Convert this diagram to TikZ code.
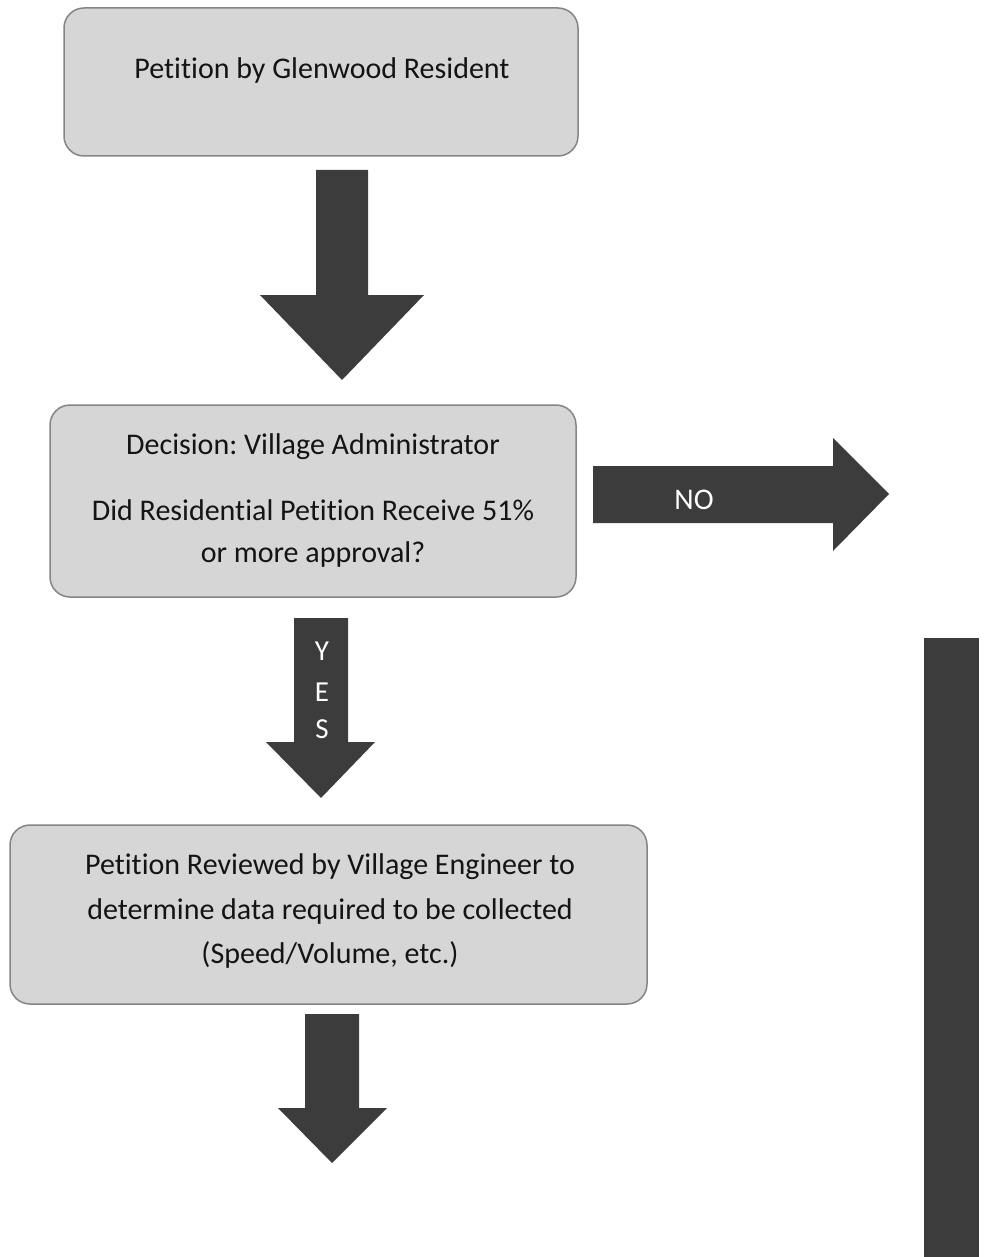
\documentclass[tikz,border=0pt]{standalone}
\usepackage{fontspec}
\setmainfont[Ligatures=NoCommon]{Carlito}
\frenchspacing
\definecolor{boxfill}{HTML}{D6D6D6}
\definecolor{boxline}{HTML}{858585}
\definecolor{arrowc}{HTML}{3C3C3C}
\tikzset{
  box/.style={draw=boxline, line width=1.5pt, fill=boxfill, rounded corners=20pt},
  txt/.style={font=\fontsize{30}{34}\selectfont, text=black!92},
  blk/.style={fill=arrowc, draw=none},
  lbl/.style={font=\fontsize{29}{32}\selectfont, text=white}
}
\begin{document}
\begin{tikzpicture}[x=1pt,y=-1pt]
\useasboundingbox (0,0) rectangle (986,1257);
% box 1
\draw[box] (64,8) rectangle (578,156);
\node[txt] (t1) at (322,71) {Petition by Glenwood Resident};
% arrow 1
\fill[blk] (316,170) -- (368,170) -- (368,295) -- (424,295) -- (342,380) -- (260,295) -- (316,295) -- cycle;
% box 2
\draw[box] (50,405) rectangle (576,597);
\node[txt] (t2a) at (313,447) {Decision: Village Administrator};
\node[txt] (t2b) at (313,510) {Did Residential Petition Receive 51\%};
\node[txt] (t2c) at (313,554) {or more approval?};
% NO arrow
\fill[blk] (593,466) -- (833,466) -- (833,438) -- (889,494) -- (833,551) -- (833,523) -- (593,523) -- cycle;
\node[lbl, font=\fontsize{30}{32}\selectfont] (no) at (694,500) {NO};
% YES arrow
\fill[blk] (294,618) -- (348,618) -- (348,742) -- (375,742) -- (321,798) -- (266,742) -- (294,742) -- cycle;
\node[lbl] (y) at (322,651) {Y};
\node[lbl] (e) at (322,692) {E};
\node[lbl] (s) at (322,729) {S};
% box 3
\draw[box] (10,825) rectangle (647,1004);
\node[txt] (t3a) at (330,867) {Petition Reviewed by Village Engineer to};
\node[txt] (t3b) at (330,911) {determine data required to be collected};
\node[txt] (t3c) at (330,955) {(Speed/Volume, etc.)};
% arrow 3
\fill[blk] (305,1014) -- (359,1014) -- (359,1108) -- (387,1108) -- (332,1163) -- (278,1108) -- (305,1108) -- cycle;
% right bar
\fill[blk] (924,638) rectangle (979,1257);
\end{tikzpicture}
\end{document}
